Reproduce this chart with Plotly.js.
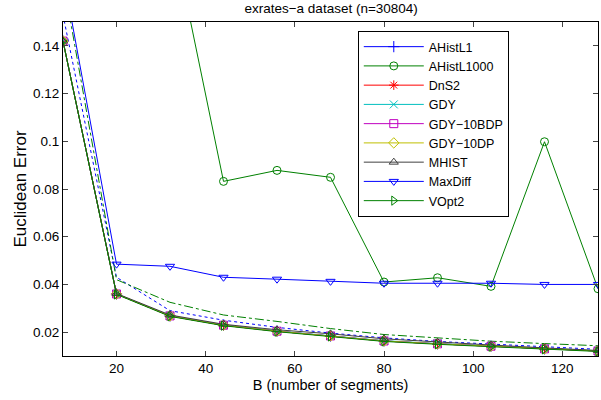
<!DOCTYPE html>
<html>
<head>
<meta charset="utf-8">
<script src="https://cdn.plot.ly/plotly-3.0.1.min.js"></script>
<style>html,body{margin:0;padding:0;background:#fff;}#chart{width:601px;height:400px;}</style>
</head>
<body>
<div id="chart"></div>
<script>
const B = [8, 20, 32, 44, 56, 68, 80, 92, 104, 116, 128];
const AHistL1    = [0.142, 0.0360, 0.0268, 0.0229, 0.0204, 0.0184, 0.0163, 0.0151, 0.0141, 0.0130, 0.0121];
const AHistL1000 = [0.300, 0.250, 0.192, 0.0832, 0.0878, 0.0849, 0.0410, 0.0428, 0.0392, 0.0998, 0.0382];
const DnS2       = [0.142, 0.0360, 0.0268, 0.0229, 0.0204, 0.0184, 0.0163, 0.0151, 0.0141, 0.0130, 0.0121];
const GDY        = [0.142, 0.0360, 0.0269, 0.0230, 0.0205, 0.0185, 0.0164, 0.0152, 0.0142, 0.0131, 0.0122];
const GDY10BDP   = [0.142, 0.0360, 0.0268, 0.0229, 0.0204, 0.0184, 0.0163, 0.0151, 0.0141, 0.0130, 0.0121];
const GDY10DP    = [0.142, 0.0360, 0.0268, 0.0229, 0.0204, 0.0184, 0.0163, 0.0151, 0.0141, 0.0130, 0.0121];
const MHIST      = [0.142, 0.0362, 0.0272, 0.0233, 0.0210, 0.0193, 0.0172, 0.0158, 0.0146, 0.0134, 0.0123];
const MaxDiff    = [0.1705, 0.0485, 0.0476, 0.0430, 0.0422, 0.0413, 0.0405, 0.0405, 0.0405, 0.0400, 0.0400];
const VOpt2      = [0.142, 0.0358, 0.0266, 0.0227, 0.0202, 0.0182, 0.0161, 0.0149, 0.0139, 0.0128, 0.0119];
const dottedBlue = [0.153, 0.0430, 0.0290, 0.0250, 0.0220, 0.0196, 0.0176, 0.0161, 0.0150, 0.0138, 0.0128];
const dashGreen  = [0.168, 0.0420, 0.0325, 0.0272, 0.0245, 0.0215, 0.0190, 0.0175, 0.0162, 0.0152, 0.0143];
const yTicks = [0.02, 0.04, 0.06, 0.08, 0.1, 0.12, 0.14];
const xTicks = [20, 40, 60, 80, 100, 120];

const series = [
  {name: 'AHistL1', y: AHistL1, color: 'rgb(0,0,255)', symbol: 'cross-thin-open'},
  {name: 'AHistL1000', y: AHistL1000, color: 'rgb(0,128,0)', symbol: 'circle-open'},
  {name: 'DnS2', y: DnS2, color: 'rgb(255,0,0)', symbol: 'asterisk-open'},
  {name: 'GDY', y: GDY, color: 'rgb(0,191,191)', symbol: 'x-thin-open'},
  {name: 'GDY\u221210BDP', y: GDY10BDP, color: 'rgb(191,0,191)', symbol: 'square-open'},
  {name: 'GDY\u221210DP', y: GDY10DP, color: 'rgb(191,191,0)', symbol: 'diamond-open'},
  {name: 'MHIST', y: MHIST, color: 'rgb(64,64,64)', symbol: 'triangle-up-open'},
  {name: 'MaxDiff', y: MaxDiff, color: 'rgb(0,0,255)', symbol: 'triangle-down-open'},
  {name: 'VOpt2', y: VOpt2, color: 'rgb(0,128,0)', symbol: 'triangle-right-open'}
];

const traces = [
  {x: B, y: dottedBlue, mode: 'lines', showlegend: false, hoverinfo: 'skip',
   line: {color: 'rgb(0,0,255)', width: 1, dash: 'dot'}},
  {x: B, y: dashGreen, mode: 'lines', showlegend: false, hoverinfo: 'skip',
   line: {color: 'rgb(0,128,0)', width: 1, dash: 'dashdot'}}
];
series.forEach(s => {
  traces.push({
    x: B, y: s.y, name: s.name, mode: 'lines+markers',
    line: {color: s.color, width: 1},
    marker: {symbol: s.symbol, size: 8, color: s.color, line: {color: s.color, width: 1}}
  });
});

const layout = {
  width: 601, height: 400,
  margin: {l: 63, r: 3, t: 22, b: 44},
  paper_bgcolor: '#fff', plot_bgcolor: '#fff',
  font: {family: 'Liberation Sans, Arial, sans-serif', size: 13, color: '#000'},
  title: {text: 'exrates\u2212a dataset (n=30804)', x: 0.551, xanchor: 'center', y: 0.979, yanchor: 'middle', yref: 'container',
          font: {size: 13.5}},
  xaxis: {range: [8, 128], tickvals: xTicks, ticks: 'inside', ticklen: 5, showline: true, linecolor: '#000', linewidth: 1,
          mirror: 'ticks', showgrid: false, zeroline: false, tickfont: {size: 13.5},
          title: {text: 'B (number of segments)', font: {size: 14.5}, standoff: 4}},
  yaxis: {range: [0.01, 0.15], tickvals: yTicks, ticktext: yTicks.map(String), ticks: 'inside', ticklen: 5, showline: true,
          linecolor: '#000', linewidth: 1, mirror: 'ticks', showgrid: false, zeroline: false, tickfont: {size: 13.5},
          title: {text: 'Euclidean Error', font: {size: 17}, standoff: 2}},
  legend: {x: 0.551, y: 0.973, xanchor: 'left', yanchor: 'top', bgcolor: '#fff', bordercolor: '#000', borderwidth: 1,
           font: {size: 12.5}, tracegroupgap: 0, itemwidth: 60},
  showlegend: true
};

Plotly.newPlot('chart', traces, layout, {displayModeBar: false, staticPlot: true});
</script>
</body>
</html>
